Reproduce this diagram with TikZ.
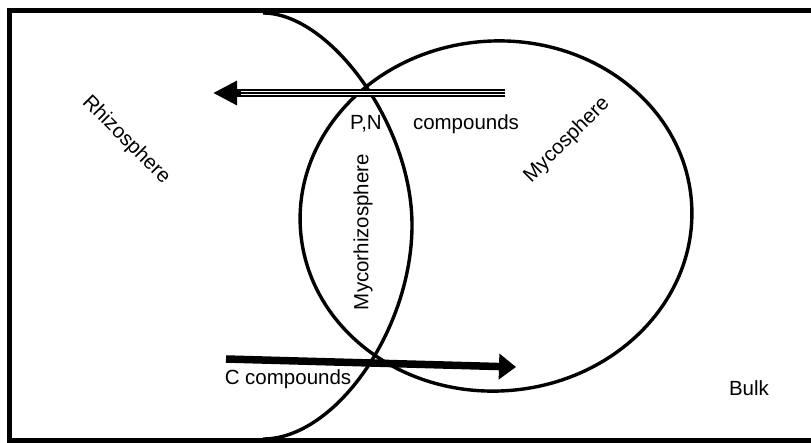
\documentclass[tikz,border=0pt]{standalone}
\usepackage{fontspec}
\setmainfont{Liberation Sans}
\usetikzlibrary{arrows.meta}

\begin{document}
\begin{tikzpicture}[x=1pt, y=-1pt]
	\tikzstyle{every node}=[font=\fontsize{20.5}{24}\selectfont, inner sep=0pt]
	\tikzstyle{zone}=[line width=3.4pt, line join=round]
	\tikzstyle{flux}=[line width=7.5pt]
	\useasboundingbox (0,0) rectangle (811,442);

	%frame
	\draw[line width=5pt] (830,10.5) -- (9.5,10.5) -- (9.5,440) -- (830,440);

	%rhizosphere boundary
	\draw[zone] (263,13) .. controls (330,13) and (412,125) .. (412,225)
		.. controls (412,330) and (335,439) .. (263,439);

	%mycosphere
	\draw[zone, rotate around={4:(496,216)}] (496,216) ellipse [x radius=196, y radius=175];

	%fluxes
	\coordinate (pn start) at (505,93);
	\coordinate (pn end) at (213,93);
	\coordinate (c start) at (226,359);
	\coordinate (c end) at (516,367);
	\draw[flux, -{Triangle[length=24pt, width=23pt]}] (pn start) -- (pn end);
	\draw[white, line width=0.8pt] ([yshift=-1.4pt]pn start) -- ([xshift=28pt, yshift=-1.4pt]pn end);
	\draw[white, line width=0.8pt] ([yshift=1.4pt]pn start) -- ([xshift=28pt, yshift=1.4pt]pn end);
	\draw[flux, -{Triangle[length=17pt, width=25pt]}] (c start) -- (c end);

	%labels
	\node[rotate=-45] (rhizo) at (126,140) {Rhizosphere};
	\node[rotate=45] (myco) at (567,140) {Mycosphere};
	\node[rotate=90] (mycorhizo) at (363,232) {Mycorhizosphere};
	\node (pn) at (366,124) {P,N};
	\node (pn comp) at (466,124) {compounds};
	\node (c comp) at (288,379) {C compounds};
	\node (bulk) at (749,388) {Bulk};
\end{tikzpicture}
\end{document}
